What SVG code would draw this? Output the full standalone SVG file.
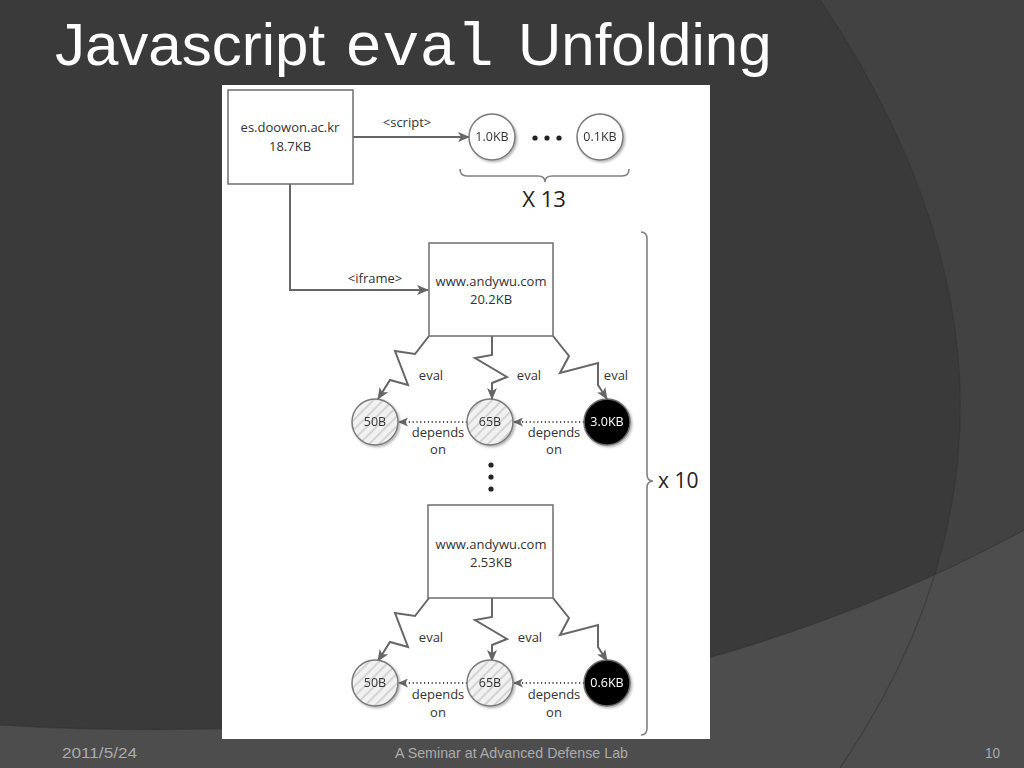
<svg xmlns="http://www.w3.org/2000/svg" width="1024" height="768" viewBox="0 0 1024 768">
<style>
.t{font-family:"Open Sans","Liberation Sans",sans-serif;font-size:13px;fill:#333;text-anchor:middle}
.box{fill:#fff;stroke:#6e6e6e;stroke-width:1.5}
.con{fill:none;stroke:#666;stroke-width:2;stroke-linejoin:miter}
.dot{fill:none;stroke:#555;stroke-width:2;stroke-dasharray:1.2 2.6}
.brace{fill:none;stroke:#808080;stroke-width:1.6}
.hc{fill:url(#hatch);stroke:#7a7a7a;stroke-width:1.5}
.wc{fill:#fff;stroke:#7a7a7a;stroke-width:1.5}
.bc{fill:#050505;stroke:#6a6a6a;stroke-width:1.5}
.ct{font-family:"Open Sans","Liberation Sans",sans-serif;font-size:12.5px;fill:#333;text-anchor:middle}
.foot{font-family:"Liberation Sans",Arial,sans-serif;font-size:15px;fill:#ababab}
</style>
<defs>
<marker id="arr" viewBox="0 0 12 10" refX="11" refY="5" markerWidth="12" markerHeight="10" markerUnits="userSpaceOnUse" orient="auto">
<path d="M0,0 L12,5 L0,10 L3,5 Z" fill="#666"/>
</marker>
<marker id="arrd" viewBox="0 0 10 9" refX="9" refY="4.5" markerWidth="10" markerHeight="9" markerUnits="userSpaceOnUse" orient="auto">
<path d="M0,0 L10,4.5 L0,9 L2.5,4.5 Z" fill="#666"/>
</marker>
<pattern id="hatch" patternUnits="userSpaceOnUse" width="7" height="7" patternTransform="rotate(45)">
<rect width="7" height="7" fill="#f1f1f1"/>
<line x1="1" y1="0" x2="1" y2="7" stroke="#b8b8b8" stroke-width="1"/>
</pattern>
<filter id="sh" x="-30%" y="-30%" width="160%" height="160%">
<feDropShadow dx="1.5" dy="1.5" stdDeviation="1.2" flood-color="#000" flood-opacity="0.3"/>
</filter>
</defs>

<!-- background -->
<rect width="1024" height="768" fill="#3a3a3a"/>
<path d="M820,0 Q1090,400 840,768 L1024,768 L1024,0 Z" fill="#424242"/>
<path d="M0,725 Q600,760 1024,530 L1024,768 L0,768 Z" fill="#4d4d4d"/>
<path d="M0,725 Q600,760 1024,530" fill="none" stroke="#333" stroke-width="1.5" opacity="0.6"/>
<path d="M820,0 Q1090,400 840,768" fill="none" stroke="#333" stroke-width="1.2" opacity="0.6"/>

<!-- title -->
<text x="55" y="65" font-family="Liberation Sans,Arial,sans-serif" font-size="60" fill="#fff">Javascript</text>
<text x="345" y="65" font-family="Liberation Mono,Courier New,monospace" font-size="62" fill="#fff">eval</text>
<text x="518" y="65" font-family="Liberation Sans,Arial,sans-serif" font-size="60" fill="#fff">Unfolding</text>

<!-- panel -->
<rect x="222" y="85" width="488" height="654" fill="#fff"/>

<!-- connectors -->
<g id="connectors">
<path class="con" d="M353,137 L469,137" marker-end="url(#arr)"/>
<path class="con" d="M290,184 L290,290 L428,290" marker-end="url(#arr)"/>
<path class="con" d="M429,336 L415,354 L395,351 L408,385 L390,380 L378,399" marker-end="url(#arr)"/>
<path class="con" d="M492,336 L492,355 L475,358 L507,377 L492,383 L492,399" marker-end="url(#arr)"/>
<path class="con" d="M553,336 L569,356 L560,373 L598,363 L598,385 L607,399" marker-end="url(#arr)"/>
<path class="con" d="M429,598 L415,616 L395,613 L408,647 L390,642 L378,661" marker-end="url(#arr)"/>
<path class="con" d="M492,598 L492,617 L475,620 L507,639 L492,645 L492,661" marker-end="url(#arr)"/>
<path class="con" d="M553,598 L569,618 L560,635 L598,625 L598,647 L607,661" marker-end="url(#arr)"/>
<path class="dot" d="M584,422 L514,422" marker-end="url(#arrd)"/>
<path class="dot" d="M467,422 L399,422" marker-end="url(#arrd)"/>
<path class="dot" d="M584,683 L514,683" marker-end="url(#arrd)"/>
<path class="dot" d="M467,683 L399,683" marker-end="url(#arrd)"/>
<text class="t" x="407" y="127">&lt;script&gt;</text>
<text class="t" x="375" y="283">&lt;iframe&gt;</text>
<text class="t" x="431" y="380">eval</text>
<text class="t" x="529" y="380">eval</text>
<text class="t" x="616" y="380">eval</text>
<text class="t" x="431" y="642">eval</text>
<text class="t" x="530" y="642">eval</text>
<text class="t" x="438" y="437">depends</text>
<text class="t" x="438" y="454">on</text>
<text class="t" x="554" y="437">depends</text>
<text class="t" x="554" y="454">on</text>
<text class="t" x="438" y="699">depends</text>
<text class="t" x="438" y="717">on</text>
<text class="t" x="554" y="699">depends</text>
<text class="t" x="554" y="717">on</text>
</g>

<!-- nodes -->
<g id="n-doowon">
<rect class="box" x="228" y="90" width="125" height="94"/>
<text class="t" x="290" y="132">es.doowon.ac.kr</text>
<text class="t" x="290" y="151">18.7KB</text>
</g>
<g id="n-s1" filter="url(#sh)">
<circle class="wc" cx="492" cy="137" r="23"/>
<text class="ct" x="492" y="141">1.0KB</text>
</g>
<g id="n-dots1">
<circle cx="535" cy="138" r="2.6" fill="#222"/>
<circle cx="547" cy="138" r="2.6" fill="#222"/>
<circle cx="559" cy="138" r="2.6" fill="#222"/>
</g>
<g id="n-s13" filter="url(#sh)">
<circle class="wc" cx="600" cy="137" r="23"/>
<text class="ct" x="600" y="141">0.1KB</text>
</g>
<g id="n-brace13">
<path class="brace" d="M460,169 Q460,176 467,176 L538,176 Q545,176 545,182 Q545,176 552,176 L622,176 Q629,176 629,169"/>
<text x="544" y="207" font-family="Open Sans,Liberation Sans,sans-serif" font-size="22" fill="#222" text-anchor="middle">X 13</text>
</g>
<g id="n-andywu1">
<rect class="box" x="429" y="243" width="124" height="93"/>
<text class="t" x="491" y="286">www.andywu.com</text>
<text class="t" x="491" y="304">20.2KB</text>
</g>
<g id="n-a50" filter="url(#sh)">
<circle class="hc" cx="375" cy="422" r="23"/>
<text class="ct" x="375" y="426">50B</text>
</g>
<g id="n-a65" filter="url(#sh)">
<circle class="hc" cx="490" cy="422" r="23"/>
<text class="ct" x="490" y="426">65B</text>
</g>
<g id="n-a30" filter="url(#sh)">
<circle class="bc" cx="607" cy="422" r="23"/>
<text class="ct" x="607" y="426" style="fill:#fff">3.0KB</text>
</g>
<g id="n-vdots">
<circle cx="491" cy="465" r="2.6" fill="#222"/>
<circle cx="491" cy="477" r="2.6" fill="#222"/>
<circle cx="491" cy="489" r="2.6" fill="#222"/>
</g>
<g id="n-andywu2">
<rect class="box" x="428" y="505" width="125" height="93"/>
<text class="t" x="491" y="549">www.andywu.com</text>
<text class="t" x="491" y="567">2.53KB</text>
</g>
<g id="n-b50" filter="url(#sh)">
<circle class="hc" cx="375" cy="683" r="23"/>
<text class="ct" x="375" y="687">50B</text>
</g>
<g id="n-b65" filter="url(#sh)">
<circle class="hc" cx="490" cy="683" r="23"/>
<text class="ct" x="490" y="687">65B</text>
</g>
<g id="n-b06" filter="url(#sh)">
<circle class="bc" cx="607" cy="683" r="23"/>
<text class="ct" x="607" y="687" style="fill:#fff">0.6KB</text>
</g>
<g id="n-brace10">
<path class="brace" d="M641,232 Q647,232 647,239 L647,474 Q647,481 653,481 Q647,481 647,488 L647,728 Q647,735 641,735"/>
<text x="658" y="488" font-family="Open Sans,Liberation Sans,sans-serif" font-size="21" fill="#222">x 10</text>
</g>

<!-- footer -->
<text class="foot" x="62" y="758" textLength="75" lengthAdjust="spacingAndGlyphs">2011/5/24</text>
<text class="foot" x="395" y="758" textLength="233" lengthAdjust="spacingAndGlyphs">A Seminar at Advanced Defense Lab</text>
<text class="foot" x="985" y="758" textLength="15" lengthAdjust="spacingAndGlyphs">10</text>
</svg>
